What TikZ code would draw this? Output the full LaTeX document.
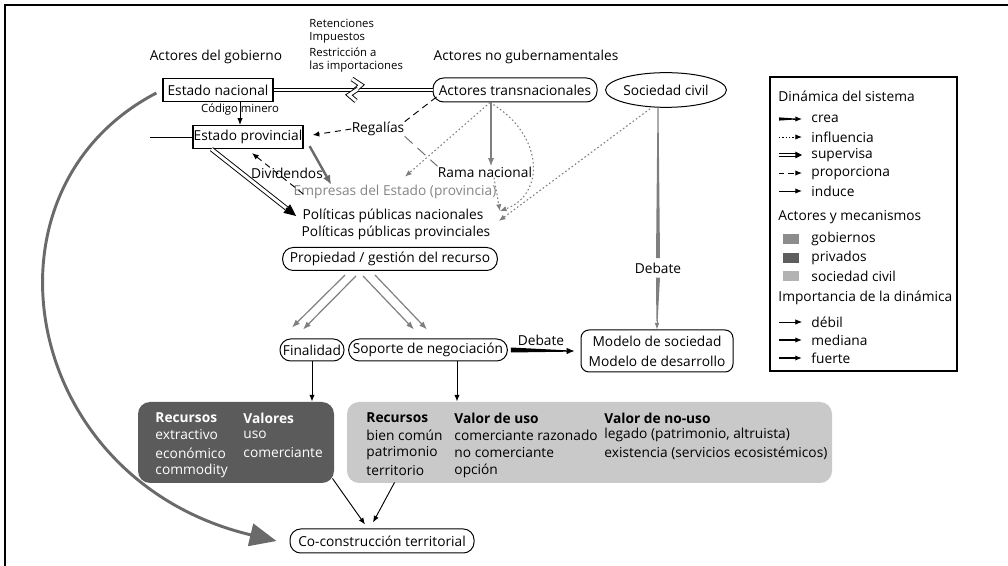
\documentclass[tikz,border=0pt]{standalone}
\usepackage{fontspec}
\setmainfont{Open Sans}
\usetikzlibrary{arrows.meta,calc,shapes.geometric}
\newcommand\fsmain{\fontsize{10.3}{13}\selectfont}
\newcommand\fssmall{\fontsize{8.5}{11}\selectfont}
\newcommand\fsmodel{\fontsize{10.3}{15}\selectfont}
\definecolor{gA}{HTML}{7F7F7F}
\definecolor{gB}{HTML}{6A6A6A}
\definecolor{empc}{HTML}{858585}
\definecolor{darkbox}{HTML}{5B5B5B}
\definecolor{lightbox}{HTML}{C9C9C9}
\definecolor{gobc}{HTML}{8C8C8C}
\definecolor{privc}{HTML}{5E5E5E}
\definecolor{socc}{HTML}{B3B3B3}
\begin{document}
\begin{tikzpicture}[x=0.75pt,y=-0.75pt,font=\fsmain,line width=0.7pt,
  txt/.style={inner sep=0pt},
  sqb/.style={draw,line width=0.9pt,inner sep=0pt,minimum width=82.5pt,minimum height=17.25pt},
  rb/.style={draw,line width=0.75pt,rounded corners=8pt,inner sep=0pt},
  tip/.style={-{Latex[length=5pt,width=4pt]}},
  garr/.style={draw=gA,line width=0.9pt,-{Latex[length=6pt,width=4.5pt]}},
  dotarr/.style={draw=gA,line width=0.8pt,dash pattern=on 1.2pt off 1.8pt,-{Latex[length=5pt,width=4pt]}},
  dasharr/.style={dash pattern=on 4.5pt off 3.5pt,-{Latex[length=5pt,width=4pt]}},
  dbl/.style={double,double distance=2.2pt,line width=0.7pt},
  wtxt/.style={txt,anchor=west,text=white},
  ltxt/.style={txt,anchor=west}
]
\useasboundingbox (0,0) rectangle (1008,566);
% frame
\draw[line width=1pt] (5,566) -- (5,5) -- (1008,5);

% headings
\node[txt] (gob) at (216,57) {Actores del gobierno};
\node[txt] (nogob) at (526,57) {Actores no gubernamentales};
\node[ltxt,font=\fssmall] (r1) at (309,23) {Retenciones};
\node[ltxt,font=\fssmall] (r2) at (309,38) {Impuestos};
\node[ltxt,font=\fssmall] (r3) at (309,52) {Restricción a};
\node[ltxt,font=\fssmall] (r4) at (309,67) {las importaciones};

% main nodes
\node[sqb] (en) at (218,90) {Estado nacional};
\node[sqb] (ep) at (248,137) {Estado provincial};
\node[rb,minimum width=123pt,minimum height=18pt] (at) at (515,90) {Actores transnacionales};
\node[draw,ellipse,line width=0.75pt,minimum width=80pt,minimum height=26pt,inner sep=0pt] (sc) at (666,90) {Sociedad civil};
\node[txt,font=\fssmall] (cm) at (240,110) {Código minero};
\node[txt] (reg) at (378,129) {Regalías};
\node[txt] (div) at (287,173) {Dividendos};
\node[txt] (ram) at (485,172) {Rama nacional};
\node[txt,text=empc] (emp) at (395,192) {Empresas del Estado (provincia)};
\node[txt] (pn) at (393,216) {Políticas públicas nacionales};
\node[txt] (pp) at (396,233) {Políticas públicas provinciales};
\node[rb,minimum width=161pt,minimum height=17.25pt] (prop) at (390,259) {Propiedad / gestión del recurso};
\node[rb,minimum width=48pt,minimum height=16.5pt] (fin) at (312,350) {Finalidad};
\node[rb,minimum width=119pt,minimum height=16.5pt] (sop) at (428,350) {Soporte de negociación};
\node[draw,line width=0.75pt,rounded corners=6pt,minimum width=114pt,minimum height=31.5pt,inner sep=0pt,align=center,font=\fsmodel] (mod) at (657,351) {Modelo de sociedad\\Modelo de desarrollo};
\node[txt] (deb1) at (541,340) {Debate};
\node[txt] (deb2) at (658,268) {Debate};
\node[fill=darkbox,rounded corners=9pt,minimum width=147pt,minimum height=60.75pt,inner sep=0pt] (dark) at (236,442.5) {};
\node[fill=lightbox,rounded corners=9pt,minimum width=363.75pt,minimum height=60.75pt,inner sep=0pt] (light) at (589.5,442.5) {};
\node[rb,minimum width=138pt,minimum height=18pt] (co) at (382,541) {Co-construcción territorial};

% dark box text
\node[wtxt,font=\fsmain\bfseries] (d1) at (155,418) {Recursos};
\node[wtxt] (d2) at (155,435) {extractivo};
\node[wtxt] (d3) at (155,453) {económico};
\node[wtxt] (d4) at (155,471) {commodity};
\node[wtxt,font=\fsmain\bfseries] (d5) at (243,418) {Valores};
\node[wtxt] (d6) at (243,435) {uso};
\node[wtxt] (d7) at (243,453) {comerciante};
% light box text
\node[ltxt,font=\fsmain\bfseries] (l1) at (366,418) {Recursos};
\node[ltxt] (l2) at (366,435) {bien común};
\node[ltxt] (l3) at (366,453) {patrimonio};
\node[ltxt] (l4) at (366,471) {territorio};
\node[ltxt,font=\fsmain\bfseries] (l5) at (454,418) {Valor de uso};
\node[ltxt] (l6) at (454,435) {comerciante razonado};
\node[ltxt] (l7) at (454,453) {no comerciante};
\node[ltxt] (l8) at (454,471) {opción};
\node[ltxt,font=\fsmain\bfseries] (l9) at (604,418) {Valor de no-uso};
\node[ltxt] (l10) at (604,435) {legado (patrimonio, altruista)};
\node[ltxt] (l11) at (604,453) {existencia (servicios ecosistémicos)};

% connectors
\draw[tip] (en.south -| cm) -- (ep.north -| cm);
\coordinate (lf) at (150,137);
\draw (lf) -- (ep.west);
\draw[dbl] (en.east) -- (at.west);
\draw[dbl] (352,79) -- (361,85) -- (354,91);
\draw[dbl] (358,89) -- (349,95) -- (356,101);

% Regalias
\draw[dash pattern=on 5pt off 3.5pt] ($(at.west)+(4,7)$) -- (reg.north east);
\draw[dasharr] (reg.west) -- ($(ep.east)+(9,-2)$);
\draw[gB,dash pattern=on 8pt off 5pt] (reg.south east) -- (ram.north west);

% transnacionales
\draw[dotarr] ($(at.south)+(-25,0)$) -- ($(emp.north)+(10,-8)$);
\draw[garr] ($(at.south)+(-24,0)$) coordinate (a1) -- (a1 |- ram.north);
\draw[dotarr] ($(at.south)+(-25,0)$) .. controls (545,135) and (545,195) .. ($(pn.east)+(16,-5)$);
\draw[dotarr] ($(ram.south)+(9,0)$) -- ($(pn.east)+(16,-5)$);
\draw[dotarr] ($(sc.south)+(-16,1)$) -- ($(pn.east)+(15,5)$);

% provincial
\draw[draw=gB,line width=1.8pt,-{Latex[length=7pt,width=6pt]}] ($(ep.south east)+(6,-3)$) -- ($(emp.north west)+(38,0)$);
\draw[dasharr] ($(emp.west)+(10,2)$) -- ($(ep.south)+(4,4)$);
\coordinate (s13) at ($(ep.south west)+(19,0)$);
\coordinate (e13) at ($(pn.west)+(-6,0)$);
\draw[dbl,shorten >=8pt] (s13) -- (e13);
\draw[-{Triangle[length=9pt,width=8pt]}] ($(s13)!0.88!(e13)$) -- (e13);

% propiedad
\draw[garr] ($(prop.south)+(-45,4)$) -- ($(fin.north)+(-20,-11)$);
\draw[garr] ($(prop.south)+(-34,5)$) -- ($(fin.north)+(-9,-9)$);
\draw[garr] ($(prop.south)+(-27,5)$) -- ($(sop.north)+(-14,-9)$);
\draw[garr] ($(prop.south)+(-15,4)$) -- ($(sop.north)+(-1,-9)$);

% debate horizontal
\fill ($(sop.east)+(3,-2.5)$) -- ($(sop.east)+(3,2.5)$) -- ($(mod.west)+(-14,0.7)$) -- ($(mod.west)+(-14,-0.7)$) -- cycle;
\draw[-{Latex[length=6pt,width=5pt]}] ($(mod.west)+(-15,0)$) -- ($(mod.west)+(-6,0)$);

% sociedad civil vertical
\coordinate (t1) at ($(sc.south)+(-8,0)$);
\fill[gA] ($(t1)+(-0.5,0)$) -- ($(t1)+(0.5,0)$) -- ($(deb2.north)+(2,-4)$) -- ($(deb2.north)+(-2,-4)$) -- cycle;
\fill[gA] ($(deb2.south)+(-2,4)$) -- ($(deb2.south)+(2,4)$) -- ($(mod.north)+(0.6,-8)$) -- ($(mod.north)+(-0.6,-8)$) -- cycle;
\draw[gA,line width=0.6pt,-{Latex[length=5pt,width=3.5pt]}] ($(mod.north)+(0,-9)$) -- (mod.north);

% to boxes
\draw[tip] (fin.south) -- (fin.south |- dark.north);
\draw[tip] ($(sop.south)+(29,0)$) coordinate (a2) -- (a2 |- light.north);
\draw[tip] ($(dark.south east)+(-2,-5)$) -- ($(co.north)+(-17,-4)$);
\draw[tip] ($(light.south west)+(48,-1)$) -- ($(co.north)+(-9,-6)$);

% big curve
\draw[gB,line width=2.2pt,-{Triangle[length=20pt,width=17pt]}] ($(en.west)+(-6,3)$) .. controls (-30,190) and (20,480) .. ($(co.west)+(-13,0)$);

% legend
\node[draw,line width=0.8pt,minimum width=140.25pt,minimum height=220.5pt,inner sep=0pt] (leg) at (863.5,224) {};
\node[ltxt] (lh1) at (778,96) {Dinámica del sistema};
\node[ltxt] (li1) at (811,119) {crea};
\node[ltxt] (li2) at (811,137) {influencia};
\node[ltxt] (li3) at (811,155) {supervisa};
\node[ltxt] (li4) at (811,173) {proporciona};
\node[ltxt] (li5) at (811,191) {induce};
\fill (779,117.4) -- (795,118.5) -- (795,119.5) -- (779,120.6) -- cycle;
\draw[tip] (793,119) -- (802,119);
\draw[dash pattern=on 1pt off 1.5pt,tip] (779,137) -- (802,137);
\draw[dbl,shorten >=4pt] (779,155) -- (802,155);
\draw[-{Triangle[length=5pt,width=5pt]}] (796,155) -- (802,155);
\draw[dash pattern=on 4pt off 3pt,tip] (779,173) -- (802,173);
\draw[tip] (779,191) -- (802,191);
\node[ltxt] (lh2) at (778,217) {Actores y mecanismos};
\fill[gobc] (783,234) rectangle (799,244);
\fill[privc] (783,253) rectangle (799,263);
\fill[socc] (783,271) rectangle (799,281);
\node[ltxt] (lg1) at (811,239) {gobiernos};
\node[ltxt] (lg2) at (811,258) {privados};
\node[ltxt] (lg3) at (811,276) {sociedad civil};
\node[ltxt] (lh3) at (778,298) {Importancia de la dinámica};
\draw[line width=0.5pt,tip] (779,322) -- (802,322);
\draw[line width=0.9pt,tip] (779,340) -- (802,340);
\draw[line width=1.4pt,tip] (779,358) -- (802,358);
\node[ltxt] (lw1) at (811,322) {débil};
\node[ltxt] (lw2) at (811,340) {mediana};
\node[ltxt] (lw3) at (811,358) {fuerte};
\end{tikzpicture}
\end{document}
